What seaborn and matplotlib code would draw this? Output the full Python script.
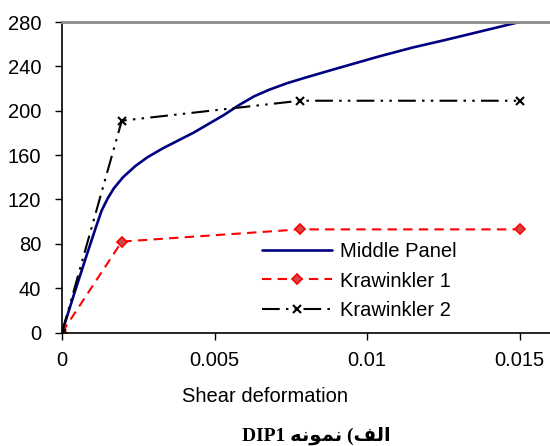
import matplotlib
matplotlib.use("Agg")
import matplotlib.pyplot as plt
import seaborn as sns
import pandas as pd

# Shear force vs shear deformation for specimen DIP1
middle_x = [0, 0.0004, 0.0008, 0.0011, 0.0013, 0.0015, 0.0017, 0.002,
            0.0024, 0.0028, 0.0033, 0.0038, 0.0043, 0.0048, 0.0053, 0.0058,
            0.0063, 0.0068, 0.0074, 0.008, 0.009, 0.0104, 0.0115, 0.0126,
            0.0138, 0.015]
middle_y = [0, 35, 69, 94, 110, 121, 130, 140, 150, 158, 166, 173, 180,
            188, 196, 205, 213, 219, 225, 230, 238, 249, 257, 264, 272, 280]

k1_x = [0, 0.00196, 0.0078, 0.0150]
k1_y = [0, 82, 93, 93]

k2_x = [0, 0.00196, 0.0078, 0.0150]
k2_y = [0, 191, 209, 209]

series_names = ["Middle Panel", "Krawinkler 1", "Krawinkler 2"]
x_ticks = [0, 0.005, 0.01, 0.015]
x_tick_labels = ["0", "0.005", "0.01", "0.015"]
y_ticks = [0, 40, 80, 120, 160, 200, 240, 280]
x_label = "Shear deformation"
# caption laid out in visual order with Arabic presentation forms:
# "DIP1" + shaped "نمونه" + mirrored paren + shaped "الف"
caption = "DIP1 " + "\uFEEA\uFEE7\uFEEE\uFEE4\uFEE7" + " (" + "\uFED2\uFEDF\uFE8D"

sns.set_style("white")
plt.rcParams["font.family"] = ["Liberation Sans", "DejaVu Sans"]
plt.rcParams["text.color"] = "black"
plt.rcParams["axes.labelcolor"] = "black"
plt.rcParams["xtick.color"] = "black"
plt.rcParams["ytick.color"] = "black"

W, H = 550, 446
fig = plt.figure(figsize=(W / 100, H / 100), dpi=100)
ax = fig.add_axes([62 / W, 1 - 332.5 / H, (W - 62) / W, (332.5 - 22) / H])

fs = 14.5

df_mid = pd.DataFrame({"x": middle_x, "y": middle_y})
df_k1 = pd.DataFrame({"x": k1_x, "y": k1_y})
df_k2 = pd.DataFrame({"x": k2_x, "y": k2_y})

sns.lineplot(data=df_mid, x="x", y="y", ax=ax, sort=False, color="#000080",
             linewidth=1.9, label=series_names[0])
sns.lineplot(data=df_k1, x="x", y="y", ax=ax, sort=False, color="#ff0000",
             linewidth=1.5, linestyle=(0, (4.5, 3)), marker="D", markersize=5.5,
             markerfacecolor="#d04848", markeredgecolor="#ff0000",
             markeredgewidth=1.2, label=series_names[1])
sns.lineplot(data=df_k2, x="x", y="y", ax=ax, sort=False, color="black",
             linewidth=1.5, linestyle=(0, (8.5, 3, 1.2, 3, 1.2, 3)), marker="x",
             markersize=6, markeredgewidth=1.5, markeredgecolor="black",
             label=series_names[2])

ax.set_xlim(0, 0.016)
ax.set_ylim(0, 280)
ax.set_xticks(x_ticks)
ax.set_xticklabels(x_tick_labels)
ax.set_yticks(y_ticks)
ax.tick_params(axis="both", direction="out", length=5, width=1, colors="black",
               labelsize=fs, left=True, bottom=True)
ax.tick_params(axis="y", pad=10)
ax.tick_params(axis="x", pad=8)

for side in ["left", "bottom"]:
    ax.spines[side].set_color("black")
    ax.spines[side].set_linewidth(1.2)
ax.spines["top"].set_color("#8c8c8c")
ax.spines["top"].set_linewidth(2)
ax.spines["right"].set_visible(False)
ax.grid(False)

ax.set_xlabel(x_label, fontsize=fs)
ax.set_ylabel("")
ax.xaxis.set_label_coords((265 - 62) / (W - 62), -0.175)

leg = ax.legend(loc="upper left", bbox_to_anchor=((262 - 62) / (W - 62), 0.29),
                frameon=False, fontsize=fs, handlelength=3.5,
                handletextpad=0.35, labelspacing=0.5, borderpad=0,
                borderaxespad=0)

fig.text(316 / W, 1 - 436 / H, caption, ha="center", va="center",
         fontsize=14, fontweight="bold",
         family=["Liberation Serif", "DejaVu Sans"])

fig.savefig("out.png", dpi=100)
